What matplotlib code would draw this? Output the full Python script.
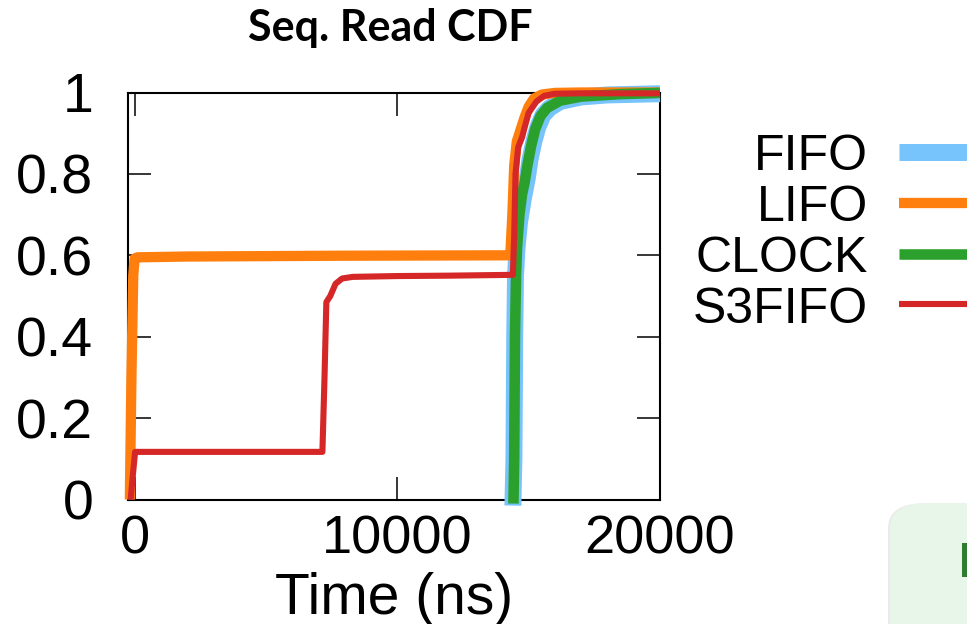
import matplotlib
matplotlib.use("Agg")
import matplotlib.pyplot as plt
from matplotlib.lines import Line2D
from matplotlib.patches import FancyBboxPatch, Rectangle

W, H = 967, 624

# series (time in ns, cumulative fraction)
labels = ["FIFO", "LIFO", "CLOCK", "S3FIFO"]
colors = ["#76c4fb", "#ff7f0e", "#2ca02c", "#d62728"]
widths = [12.2, 7.4, 7.6, 4.4]

fifo_x = [14400, 14440, 14470, 14500, 14560, 14650, 14800, 14950, 15050, 15200,
          15350, 15550, 15800, 16200, 17000, 18000, 20000]
fifo_y = [-0.015, 0.10, 0.40, 0.55, 0.62, 0.68, 0.74, 0.79, 0.835, 0.88,
          0.915, 0.945, 0.962, 0.978, 0.989, 0.994, 0.997]

lifo_x = [-180, -120, -50, 0, 100, 2000, 8000, 14300, 14380, 14450, 14550,
          14700, 14850, 15000, 15200, 15500, 16000, 17000, 20000]
lifo_y = [0, 0.30, 0.55, 0.592, 0.595, 0.597, 0.599, 0.600, 0.70, 0.82, 0.88,
          0.91, 0.94, 0.965, 0.985, 0.995, 0.999, 1.0, 1.0]

clock_x = [14420, 14450, 14480, 14520, 14560, 14650, 14750, 14850, 14950, 15100,
           15250, 15450, 15700, 16200, 17000, 18500, 20000]
clock_y = [-0.01, 0.10, 0.40, 0.55, 0.62, 0.70, 0.75, 0.78, 0.82, 0.87,
           0.91, 0.942, 0.962, 0.98, 0.99, 0.996, 0.999]

s3fifo_x = [-150, -80, 20, 7150, 7230, 7300, 7450, 7650, 7900, 8300, 10000,
            12000, 14400, 14450, 14500, 14600, 14750, 14850, 15000, 15300,
            15600, 16000, 17000, 20000]
s3fifo_y = [0, 0.05, 0.117, 0.117, 0.30, 0.485, 0.50, 0.53, 0.543, 0.547, 0.549,
            0.55, 0.552, 0.65, 0.80, 0.865, 0.89, 0.915, 0.95, 0.978,
            0.992, 0.997, 0.998, 0.998]

series_x = [fifo_x, lifo_x, clock_x, s3fifo_x]
series_y = [fifo_y, lifo_y, clock_y, s3fifo_y]

xticks = [0, 10000, 20000]
xtick_labels = ["0", "10000", "20000"]
yticks = [0, 0.2, 0.4, 0.6, 0.8, 1.0]
ytick_labels = ["0", "0.2", "0.4", "0.6", "0.8", "1"]

plt.rcParams["font.family"] = ["Liberation Sans", "DejaVu Sans"]

fig = plt.figure(figsize=(W / 100, H / 100), dpi=100)
ax = fig.add_axes([128 / W, 1 - 499.5 / H, 532 / W, 407 / H])

for x, y, c, lw in zip(series_x, series_y, colors, widths):
    ax.plot(x, y, color=c, lw=lw, solid_capstyle="butt",
            solid_joinstyle="round", clip_on=False, zorder=3)

ax.set_xlim(-250, 20000)
ax.set_ylim(0, 1)
ax.set_xticks(xticks, xtick_labels)
ax.set_yticks(yticks, ytick_labels)
ax.tick_params(axis="both", direction="in", length=16.5, width=1.1,
               top=True, right=True, color="black")
ax.tick_params(axis="y", labelsize=40, pad=25)
ax.tick_params(axis="x", labelsize=39, pad=11)
for s in ax.spines.values():
    s.set_linewidth(1.5)
    s.set_zorder(2)

ax.set_xlabel("Time (ns)", fontsize=41, labelpad=5)

fig.text(390 / W, 1 - 28 / H, "Seq. Read CDF", ha="center", va="center",
         fontsize=31, fontweight="bold", family=["Lato", "DejaVu Sans"])

# legend, right-aligned labels with long keys running off the edge
for i, (lab, c, lw) in enumerate(zip(labels, colors, widths)):
    fig.text(868 / W, 1 - (170 + 51 * i) / H, lab, ha="right", va="baseline",
             fontsize=36)
    fig.add_artist(Line2D([899 / W, 1.02], [1 - (151.5 + 51 * i) / H] * 2,
                          color=c, lw=lw, solid_capstyle="butt"))

# cropped neighbouring panel in the corner
fig.add_artist(FancyBboxPatch((888 / W, -0.1), 0.3, (1 - 503 / H) + 0.1,
                              boxstyle="round,pad=0,rounding_size=0.04",
                              transform=fig.transFigure, facecolor="#dcdcdc",
                              edgecolor="none", alpha=0.6))
fig.add_artist(FancyBboxPatch((890 / W, -0.1), 0.3, (1 - 503 / H) + 0.1,
                              boxstyle="round,pad=0,rounding_size=0.04",
                              transform=fig.transFigure, facecolor="#e8f5e9",
                              edgecolor="none"))
fig.add_artist(Rectangle((962 / W, 1 - 577 / H), 0.02, 34 / H,
                         transform=fig.transFigure, facecolor="#2e7d32",
                         edgecolor="none"))

fig.savefig("out.png", dpi=100)
